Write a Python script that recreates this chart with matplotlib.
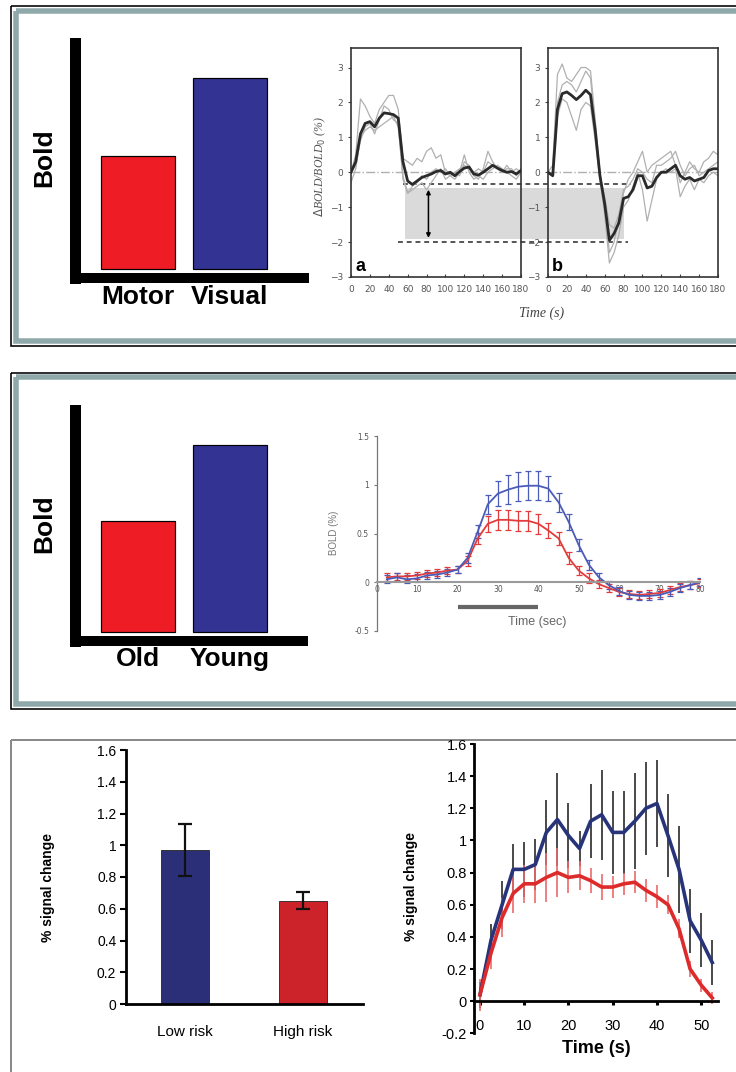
import numpy as np
import matplotlib
matplotlib.use('Agg')
import matplotlib.pyplot as plt
from matplotlib.patches import Rectangle
from matplotlib.ticker import FuncFormatter

W, H = 736, 1072
DPI = 100
PT = 72.0 / DPI          # points per pixel

SANS = ['Liberation Sans', 'DejaVu Sans']
SERIF = ['Liberation Serif', 'DejaVu Serif']

# --- data: schematic bars (top of bar, arbitrary units) ---
cond_top = ['Motor', 'Visual']
bold_top = [0.52, 0.85]
cond_mid = ['Old', 'Young']
bold_mid = [0.52, 0.85]

# --- data: panel a / b time courses (every 5 s) ---
t_ab = np.arange(0, 181, 5)
a_mean = [0.0, 0.3, 1.1, 1.4, 1.45, 1.3, 1.55, 1.7, 1.68, 1.65, 1.55, 0.3, -0.25,
          -0.35, -0.25, -0.15, -0.1, -0.05, 0.02, 0.05, -0.05, 0.0, -0.1, 0.02,
          0.12, 0.15, -0.05, -0.08, 0.0, 0.1, 0.2, 0.12, 0.05, 0.0, 0.02, -0.05, 0.05]
a_runs = [
    [0.0, 0.5, 2.1, 1.9, 1.6, 1.4, 1.8, 2.0, 2.2, 2.2, 1.8, 0.4, 0.3, 0.2, 0.4, 0.3,
     0.6, 0.7, 0.4, 0.5, 0.0, -0.1, 0.0, -0.1, 0.3, 0.2, -0.1, -0.2, 0.1, 0.6, 0.3,
     0.1, 0.0, 0.1, 0.1, -0.1, 0.1],
    [0.0, 0.2, 0.9, 1.3, 1.4, 1.1, 1.5, 1.9, 1.8, 1.5, 1.4, -0.2, -0.6, -0.5, -0.4,
     -0.3, -0.5, -0.3, -0.1, 0.1, -0.2, -0.1, -0.2, 0.0, 0.5, 0.0, -0.2, -0.1, -0.2,
     0.0, 0.1, 0.2, 0.1, 0.0, -0.1, -0.2, 0.0],
    [-0.3, 0.1, 1.0, 1.2, 1.3, 1.2, 1.3, 1.4, 1.5, 1.6, 1.3, -0.1, -0.6, -0.4, -0.3,
     -0.1, -0.2, 0.0, 0.1, 0.0, 0.1, -0.1, 0.0, 0.1, 0.2, 0.1, 0.0, 0.1, 0.0, 0.3,
     0.2, 0.1, 0.0, 0.2, 0.0, 0.1, 0.0],
]
b_mean = [0.0, -0.1, 1.8, 2.25, 2.3, 2.2, 2.08, 2.2, 2.35, 2.22, 1.2, -0.1, -0.9,
          -1.95, -1.75, -1.45, -0.75, -0.7, -0.5, -0.1, -0.1, -0.45, -0.4, -0.15,
          0.0, 0.0, 0.1, 0.2, -0.1, -0.2, -0.15, -0.25, -0.2, -0.15, 0.05, 0.1, 0.1]
b_runs = [
    [0.0, 0.2, 2.8, 3.1, 2.7, 2.6, 2.8, 3.0, 3.0, 2.9, 1.5, 0.0, -1.0, -2.3, -2.0,
     -1.3, -0.6, -0.2, 0.0, 0.3, 0.6, 0.0, 0.2, 0.3, 0.4, 0.5, 0.6, 0.2, -0.3, 0.0,
     0.3, 0.1, 0.0, 0.3, 0.4, 0.6, 0.5],
    [0.0, -0.1, 1.6, 2.1, 2.0, 1.6, 1.2, 1.8, 2.0, 1.9, 0.9, -0.2, -1.2, -2.6, -2.3,
     -1.8, -1.0, -0.8, -0.4, 0.0, -0.5, -1.4, -0.8, -0.2, 0.0, 0.1, 0.0, 0.1, -0.7,
     -0.4, -0.2, -0.5, -0.2, -0.3, -0.1, 0.0, -0.1],
    [0.0, -0.1, 2.0, 2.5, 2.6, 2.5, 2.3, 2.6, 2.9, 2.7, 1.3, -0.1, -0.7, -1.5, -1.6,
     -1.2, -0.5, -0.4, -0.2, 0.1, 0.0, -0.2, -0.3, 0.2, 0.2, 0.3, 0.4, 0.6, 0.2,
     -0.1, 0.1, 0.2, -0.1, 0.0, 0.1, 0.2, 0.3],
]
undershoot_hi, undershoot_lo = -0.35, -2.0

# --- data: young / old time courses (every 2.5 s) ---
t_age = np.arange(2.5, 80.1, 2.5)
young = [0.03, 0.05, 0.03, 0.04, 0.07, 0.08, 0.10, 0.13, 0.25, 0.52, 0.80, 0.91,
         0.95, 0.98, 0.99, 0.99, 0.96, 0.82, 0.62, 0.38, 0.18, 0.05, -0.03, -0.09,
         -0.13, -0.14, -0.14, -0.13, -0.10, -0.06, -0.03, 0.0]
young_err = [0.04, 0.04, 0.04, 0.04, 0.04, 0.04, 0.04, 0.04, 0.05, 0.07, 0.10, 0.13,
             0.15, 0.15, 0.15, 0.15, 0.13, 0.10, 0.08, 0.06, 0.05, 0.05, 0.04, 0.04,
             0.04, 0.04, 0.04, 0.04, 0.04, 0.04, 0.04, 0.04]
old = [0.05, 0.06, 0.06, 0.07, 0.09, 0.10, 0.12, 0.13, 0.22, 0.45, 0.60, 0.64, 0.64,
       0.63, 0.63, 0.60, 0.53, 0.45, 0.25, 0.12, 0.04, -0.02, -0.06, -0.10, -0.12,
       -0.13, -0.12, -0.11, -0.08, -0.05, -0.03, -0.01]
old_err = [0.04, 0.04, 0.04, 0.04, 0.04, 0.04, 0.04, 0.04, 0.05, 0.06, 0.08, 0.10,
           0.10, 0.10, 0.10, 0.10, 0.08, 0.07, 0.06, 0.05, 0.05, 0.04, 0.04, 0.04,
           0.04, 0.04, 0.04, 0.04, 0.04, 0.04, 0.04, 0.04]
stim_on, stim_off = 20, 40

# --- data: risk groups ---
risk_groups = ['Low risk', 'High risk']
risk_mean = [0.97, 0.65]
risk_err = [0.165, 0.053]
t_risk = np.arange(0, 52.6, 2.5)
low_risk = [0.04, 0.38, 0.60, 0.82, 0.82, 0.85, 1.05, 1.13, 1.03, 0.95, 1.12, 1.16,
            1.05, 1.05, 1.12, 1.20, 1.23, 1.03, 0.82, 0.50, 0.38, 0.24]
low_risk_err = [0.08, 0.10, 0.15, 0.16, 0.17, 0.16, 0.20, 0.29, 0.20, 0.11, 0.23,
                0.28, 0.26, 0.26, 0.30, 0.29, 0.27, 0.26, 0.27, 0.20, 0.17, 0.14]
high_risk = [0.04, 0.30, 0.52, 0.67, 0.73, 0.73, 0.77, 0.80, 0.77, 0.78, 0.75, 0.71,
             0.71, 0.73, 0.74, 0.69, 0.65, 0.60, 0.45, 0.20, 0.10, 0.02]
high_risk_err = [0.10, 0.10, 0.12, 0.12, 0.12, 0.12, 0.15, 0.15, 0.10, 0.09, 0.08,
                 0.08, 0.07, 0.07, 0.07, 0.07, 0.07, 0.06, 0.06, 0.05, 0.04, 0.04]

NAVY, CRIMSON = '#2b2f78', '#cc2229'

fig = plt.figure(figsize=(W / DPI, H / DPI), dpi=DPI)


def add_ax(x0, y0, x1, y1, **kw):
    # axes from pixel box (top-left origin)
    return fig.add_axes([x0 / W, 1 - y1 / H, (x1 - x0) / W, (y1 - y0) / H], **kw)


# --- frames ---
bg = fig.add_axes([0, 0, 1, 1])
bg.set_xlim(0, W)
bg.set_ylim(H, 0)
bg.axis('off')
for y0, y1 in [(6, 346), (372.7, 709)]:
    bg.add_patch(Rectangle((11, y0), 900, y1 - y0, fill=False, ec='black', lw=1.6 * PT))
    bg.add_patch(Rectangle((15.8, y0 + 4.6), 900, y1 - y0 - 9.2, fill=False,
                           ec='#8fa9aa', lw=5.5 * PT))
bg.add_patch(Rectangle((11, 740), 900, 500, fill=False, ec='#8a8a8a', lw=2 * PT))


def schematic(box, labels, tops, ylab_y):
    ax = add_ax(*box)
    base = 0.037
    ax.bar([0, 1], np.subtract(tops, base), bottom=base, width=0.806,
           color=['#ee1c24', '#333393'], edgecolor='black', linewidth=1.2 * PT)
    ax.set_xlim(-0.689, 1.801)
    ax.set_ylim(0, 1)
    for s in ['top', 'right']:
        ax.spines[s].set_visible(False)
    ax.spines['left'].set_linewidth(11 * PT)
    ax.spines['bottom'].set_linewidth(10 * PT)
    for s in ['left', 'bottom']:
        ax.spines[s].set_capstyle('projecting')
    ax.set_yticks([])
    ax.set_xticks([0, 1])
    ax.set_xticklabels(labels, family=SANS, fontweight='bold', fontsize=19)
    ax.tick_params(axis='x', length=0, pad=5)
    ax.set_ylabel('Bold', family=SANS, fontweight='bold', fontsize=19)
    ax.yaxis.set_label_coords(-0.083, ylab_y)
    ax.patch.set_alpha(0)
    return ax


schematic((75, 43, 303.5, 277.7), cond_top, bold_top, 0.51)
schematic((75, 410.5, 303, 640.5), cond_mid, bold_mid, 0.51)

# --- panels a / b ---
A_X0, A_X1, B_X0, B_X1 = 351, 521, 548, 718
ax_a = add_ax(A_X0, 48.3, A_X1, 277)
ax_b = add_ax(B_X0, 48.3, B_X1, 277)


def b_to_a(xb):
    px = B_X0 + xb * (B_X1 - B_X0) / 180.0
    return (px - A_X0) * 180.0 / (A_X1 - A_X0)


for ax, mean, runs, tag in [(ax_a, a_mean, a_runs, 'a'), (ax_b, b_mean, b_runs, 'b')]:
    ax.axhline(0, color='#b0b0b0', lw=1, ls='-.', zorder=1)
    for r in runs:
        ax.plot(t_ab, r, color='#b0b0b0', lw=0.9, zorder=2)
    ax.plot(t_ab, mean, color='#2a2a2a', lw=2, zorder=3)
    ax.set_xlim(0, 180)
    ax.set_ylim(-3, 3.55)
    ax.set_xticks(range(0, 181, 20))
    ax.set_yticks(range(-3, 4))
    ax.tick_params(axis='both', labelsize=6.5, colors='#444', labelcolor='#555',
                   length=2, width=0.8)
    ax.tick_params(axis='x', direction='in', pad=6)
    for sp in ax.spines.values():
        sp.set_color('#333')
        sp.set_linewidth(1.2)
    ax.text(0.025, 0.008, tag, transform=ax.transAxes, fontsize=13,
            fontweight='bold', family=SANS, va='bottom', ha='left')
ax_b.set_facecolor('none')

# shaded undershoot window and dashed reference levels spanning both panels
ax_a.add_patch(Rectangle((57, -1.92), b_to_a(80) - 57, 1.47, fc='#dadada', ec='none',
                         clip_on=False, zorder=0))
ax_a.plot([55, b_to_a(88)], [undershoot_hi] * 2, ls=(0, (2.5, 2)), color='#555',
          lw=1.4, clip_on=False, zorder=1)
ax_a.plot([50, b_to_a(85)], [undershoot_lo] * 2, ls=(0, (2.5, 2)), color='#555',
          lw=1.4, clip_on=False, zorder=1)
ax_a.annotate('', xy=(82, -1.88), xytext=(82, -0.5),
              arrowprops=dict(arrowstyle='<|-|>', color='black', lw=1.1,
                              mutation_scale=6, shrinkA=0, shrinkB=0))
fig.text(320 / W, 1 - 167 / H, r'$\Delta$BOLD/BOLD$_0$ (%)', rotation=90,
         family=SERIF, style='italic', fontsize=8.5, color='#555',
         ha='center', va='center')
fig.text(542 / W, 1 - 313 / H, 'Time (s)', family=SERIF, style='italic',
         fontsize=10, color='#444', ha='center', va='center')

# --- young / old time courses ---
ax_m = add_ax(376.7, 436, 700, 631)
ax_m.errorbar(t_age, old, yerr=old_err, color='#e23b3b', lw=1.3, elinewidth=0.9,
              capsize=2, capthick=0.9)
ax_m.errorbar(t_age, young, yerr=young_err, color='#4a5cb8', lw=1.3, elinewidth=0.9,
              capsize=2, capthick=0.9)
ax_m.plot([stim_on, stim_off], [-0.25, -0.25], color='#666', lw=3 * PT * 1.4,
          solid_capstyle='butt', clip_on=False)
ax_m.set_xlim(0, 80)
ax_m.set_ylim(-0.5, 1.5)
ax_m.set_xticks(range(0, 81, 10))
ax_m.set_yticks([-0.5, 0, 0.5, 1, 1.5])
ax_m.yaxis.set_major_formatter(FuncFormatter(lambda v, _: f'{v:g}'))
for s in ['top', 'right']:
    ax_m.spines[s].set_visible(False)
ax_m.spines['bottom'].set_position(('data', 0))
ax_m.spines['bottom'].set_color('#9a9a9a')
ax_m.spines['bottom'].set_linewidth(1.5)
ax_m.spines['left'].set_color('#777')
ax_m.spines['left'].set_linewidth(0.9)
ax_m.tick_params(axis='x', length=0, labelsize=5.5, labelcolor='#555', pad=2)
ax_m.tick_params(axis='y', length=2, labelsize=5.5, labelcolor='#555', color='#777')
ax_m.patch.set_alpha(0)
fig.text(334 / W, 1 - 533 / H, 'BOLD (%)', rotation=90, family=SANS, fontsize=7,
         color='#777', ha='center', va='center')
fig.text(537 / W, 1 - 621.7 / H, 'Time (sec)', family=SANS, fontsize=9,
         color='#666', ha='center', va='center')

# --- risk bars ---
ax_r = add_ax(126, 750, 363, 1004)
ax_r.bar([0, 1], risk_mean, width=0.41, color=[NAVY, CRIMSON], edgecolor='#222',
         linewidth=0.6)
ax_r.errorbar([0, 1], risk_mean, yerr=risk_err, fmt='none', ecolor='#111',
              elinewidth=1.6, capsize=5, capthick=1.6)
ax_r.set_xlim(-0.5, 1.508)
ax_r.set_ylim(0, 1.6)
ax_r.set_yticks(np.arange(0, 1.61, 0.2))
ax_r.yaxis.set_major_formatter(FuncFormatter(lambda v, _: f'{round(v, 1):g}'))
ax_r.set_xticks([0, 1])
ax_r.set_xticklabels(risk_groups, family=SANS, fontsize=11)
ax_r.tick_params(axis='x', length=0, pad=15)
ax_r.tick_params(axis='y', length=4, width=1.5, labelsize=10, pad=3)
for lab in ax_r.get_yticklabels():
    lab.set_family(SANS)
for s in ['top', 'right']:
    ax_r.spines[s].set_visible(False)
for s in ['left', 'bottom']:
    ax_r.spines[s].set_linewidth(2)
ax_r.set_ylabel('% signal change', family=SANS, fontweight='bold', fontsize=10)
ax_r.yaxis.set_label_coords(-0.30, 0.46)
ax_r.patch.set_alpha(0)

# --- risk time courses ---
ax_t = add_ax(474, 744, 718, 1033.3)
ax_t.errorbar(t_risk, low_risk, yerr=low_risk_err, fmt='none', ecolor='#2a2a2a',
              elinewidth=1.2, zorder=2)
ax_t.errorbar(t_risk, high_risk, yerr=high_risk_err, fmt='none', ecolor='#ec6a6a',
              elinewidth=1.2, zorder=2)
ax_t.plot(t_risk, low_risk, color='#28347a', lw=2.6, zorder=3)
ax_t.plot(t_risk, high_risk, color='#dd2a2a', lw=2.6, zorder=3)
ax_t.set_xlim(-1.35, 53.8)
ax_t.set_ylim(-0.2, 1.6)
ax_t.set_xticks(range(0, 51, 10))
ax_t.set_yticks(np.arange(-0.2, 1.61, 0.2))
ax_t.yaxis.set_major_formatter(FuncFormatter(lambda v, _: f'{round(v, 1):g}'))
for s in ['top', 'right']:
    ax_t.spines[s].set_visible(False)
ax_t.spines['bottom'].set_position(('data', 0))
for s in ['left', 'bottom']:
    ax_t.spines[s].set_linewidth(2)
ax_t.tick_params(axis='x', length=3, width=2.2, labelsize=10.5, pad=10)
ax_t.tick_params(axis='y', length=3, width=1.5, labelsize=10.5, pad=2)
for lab in ax_t.get_xticklabels() + ax_t.get_yticklabels():
    lab.set_family(SANS)
ax_t.set_xlabel('Time (s)', family=SANS, fontweight='bold', fontsize=13, labelpad=5)
ax_t.set_ylabel('% signal change', family=SANS, fontweight='bold', fontsize=10)
ax_t.yaxis.set_label_coords(-0.23, 0.507)
ax_t.patch.set_alpha(0)

fig.savefig('out.png', dpi=DPI)
